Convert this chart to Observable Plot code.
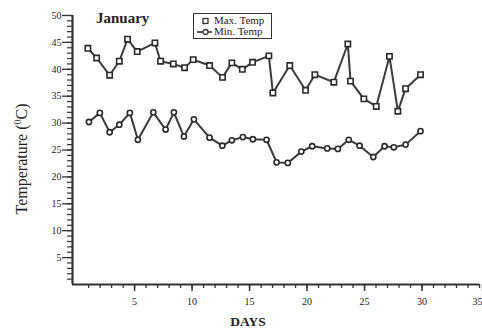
<!DOCTYPE html>
<html>
<head>
<meta charset="utf-8">
<script src="https://cdn.jsdelivr.net/npm/d3@7"></script>
<script src="https://cdn.jsdelivr.net/npm/@observablehq/plot@0.6"></script>
<style>
  html, body { margin: 0; padding: 0; background: #fff; }
  #wrap { position: relative; width: 482px; height: 331px; font-family: "Liberation Serif", "DejaVu Serif", serif; color: #222; }
  .abs { position: absolute; white-space: nowrap; }
  #title { left: 96px; top: 10px; font-size: 15px; font-weight: bold; }
  #legend { left: 193px; top: 13px; width: 77px; height: 24px; border: 1.5px solid #333; font-size: 11px; line-height: 11px; }
  #legend .row { position: absolute; left: 2px; display: flex; align-items: center; }
  #legend svg { display: block; margin-right: 2px; }
  #ylab { left: 22px; top: 159px; font-size: 16px; transform: translate(-50%, -50%) rotate(-90deg); }
  #ylab sup { font-size: 10px; vertical-align: 6px; line-height: 0; }
  #xlab { left: 248px; top: 314px; font-size: 13.5px; font-weight: bold; transform: translateX(-50%); }
</style>
</head>
<body>
<div id="wrap">
  <div id="chart"></div>
  <div id="title" class="abs"></div>
  <div id="legend" class="abs"></div>
  <div id="ylab" class="abs"></div>
  <div id="xlab" class="abs"></div>
</div>
<script>
// Data (x = day position, y = temperature °C)
const maxDays = [0.94,1.70,2.83,3.67,4.39,5.23,6.77,7.26,8.37,9.35,10.10,11.52,12.65,13.46,14.37,15.26,16.68,17.03,18.50,19.87,20.68,22.33,23.55,23.78,24.94,26.02,27.17,27.90,28.57,29.87];
const maxTemp = [43.9,42.1,38.9,41.5,45.6,43.3,44.9,41.5,41.0,40.3,41.8,40.7,38.5,41.2,40.0,41.3,42.5,35.6,40.7,36.1,39.0,37.6,44.7,37.8,34.5,33.1,42.4,32.2,36.4,39.0];
const minDays = [1.03,1.98,2.83,3.67,4.59,5.29,6.63,7.70,8.42,9.29,10.16,11.52,12.63,13.46,14.42,15.29,16.48,17.35,18.33,19.50,20.45,21.76,22.68,23.63,24.57,25.76,26.74,27.55,28.57,29.87];
const minTemp = [30.2,31.9,28.3,29.7,31.9,26.9,32.0,28.8,32.0,27.5,30.7,27.3,25.8,26.8,27.4,27.0,26.9,22.7,22.6,24.7,25.7,25.3,25.2,26.9,25.8,23.7,25.7,25.5,26.0,28.5];

const xMajorTicks = [5, 10, 15, 20, 25, 30];
const xEdgeTicks = [35];
const yMajorTicks = [5, 10, 15, 20, 25, 30, 35, 40, 45, 50];
const xDomain = [-0.4, 35];
const yDomain = [0, 50];

const titleText = "January";
const seriesNames = ["Max. Temp", "Min. Temp"];
const yLabelParts = ["Temperature (", "0", "C)"];
const xLabel = "DAYS";

const maxData = maxDays.map((d, i) => ({day: d, temp: maxTemp[i]}));
const minData = minDays.map((d, i) => ({day: d, temp: minTemp[i]}));

const ink = "#333";
const font = "'Liberation Serif', 'DejaVu Serif', serif";

const chart = Plot.plot({
  width: 482,
  height: 331,
  marginTop: 15,
  marginBottom: 47,
  marginLeft: 72,
  marginRight: 3,
  style: {fontFamily: font, fontSize: "10px", color: "#222", background: "transparent", overflow: "visible"},
  x: {domain: xDomain},
  y: {domain: yDomain},
  marks: [
    // minor ticks
    Plot.axisX(d3.range(1, 36), {tickSize: 4, text: null, label: null, stroke: ink, strokeWidth: 1.3}),
    Plot.axisY(d3.range(1, 51), {tickSize: 5, text: null, label: null, stroke: ink, strokeWidth: 1.2}),
    // major ticks with labels
    Plot.axisX(xMajorTicks, {tickSize: 7, tickPadding: 6, label: null, stroke: ink, strokeWidth: 1.5, fontSize: 10}),
    Plot.axisX(xEdgeTicks, {tickSize: 7, tickPadding: 6, label: null, stroke: ink, strokeWidth: 1.5, fontSize: 10, textAnchor: "end", dx: 3}),
    Plot.axisY(yMajorTicks, {tickSize: 10, tickPadding: 1, label: null, stroke: ink, strokeWidth: 1.3, fontSize: 10}),
    // axis lines
    Plot.ruleY([yDomain[0]], {stroke: ink, strokeWidth: 2.2}),
    Plot.ruleX([xDomain[0]], {y1: yDomain[0], y2: yDomain[1], stroke: ink, strokeWidth: 2.2}),
    // series
    Plot.line(maxData, {x: "day", y: "temp", stroke: "#3a3a3a", strokeWidth: 2}),
    Plot.dot(maxData, {x: "day", y: "temp", symbol: "square", r: 3, fill: "white", stroke: "#2a2a2a", strokeWidth: 1.6}),
    Plot.line(minData, {x: "day", y: "temp", stroke: "#3a3a3a", strokeWidth: 2}),
    Plot.dot(minData, {x: "day", y: "temp", symbol: "circle", r: 2.6, fill: "white", stroke: "#2a2a2a", strokeWidth: 1.6})
  ]
});
document.getElementById("chart").appendChild(chart);

document.getElementById("title").textContent = titleText;
document.getElementById("xlab").textContent = xLabel;
const ylab = document.getElementById("ylab");
ylab.appendChild(document.createTextNode(yLabelParts[0]));
const sup = document.createElement("sup");
sup.textContent = yLabelParts[1];
ylab.appendChild(sup);
ylab.appendChild(document.createTextNode(yLabelParts[2]));

const legend = document.getElementById("legend");
seriesNames.forEach((name, i) => {
  const row = document.createElement("div");
  row.className = "row";
  row.style.top = (1 + i * 11) + "px";
  const svg = d3.create("svg").attr("width", 16).attr("height", 10);
  if (i === 0) {
    svg.append("rect").attr("x", 7).attr("y", 2.5).attr("width", 5).attr("height", 5)
      .attr("fill", "white").attr("stroke", ink).attr("stroke-width", 1.3);
  } else {
    svg.append("line").attr("x1", 1).attr("x2", 16).attr("y1", 5).attr("y2", 5)
      .attr("stroke", ink).attr("stroke-width", 1.6);
    svg.append("circle").attr("cx", 9.5).attr("cy", 5).attr("r", 2.5)
      .attr("fill", "white").attr("stroke", ink).attr("stroke-width", 1.3);
  }
  row.appendChild(svg.node());
  const span = document.createElement("span");
  span.textContent = name;
  row.appendChild(span);
  legend.appendChild(row);
});
</script>
</body>
</html>
